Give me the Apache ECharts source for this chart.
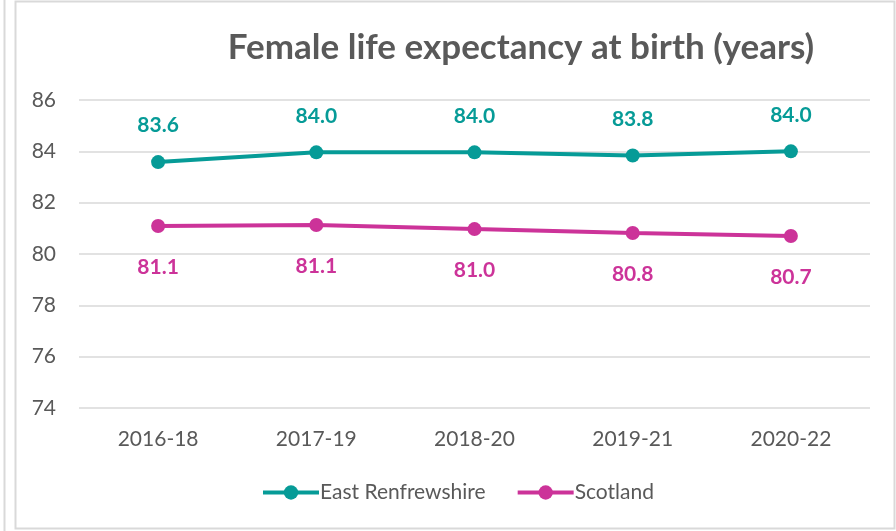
<!DOCTYPE html>
<html>
<head>
<meta charset="utf-8">
<script src="https://cdn.jsdelivr.net/npm/echarts@6/dist/echarts.min.js"></script>
<style>
  body { margin: 0; background: #fff; }
  #main { width: 896px; height: 531px; }
</style>
</head>
<body>
<div id="main"></div>
<script>
  // data
  var periods = ['2016-18', '2017-19', '2018-20', '2019-21', '2020-22'];
  var eastRenfrewshire = [83.58, 83.96, 83.96, 83.84, 84.0];
  var scotland = [81.09, 81.13, 80.97, 80.82, 80.7];
  var yTicks = [74, 76, 78, 80, 82, 84, 86];

  var font = 'Lato, "Open Sans", sans-serif';
  var teal = '#069b97';
  var pink = '#cc3399';
  var grey = '#595959';

  var myChart = echarts.init(document.getElementById('main'));
  var option = {
    textStyle: { fontFamily: font },
    title: {
      text: 'Female life expectancy at birth (years)',
      left: 516,
      top: 25,
      textAlign: 'center',
      textStyle: { fontSize: 35, fontWeight: 'bold', color: grey, fontFamily: font }
    },
    graphic: [
      { type: 'rect', shape: { x: 15.5, y: 1.5, width: 879, height: 527 },
        style: { fill: 'none', stroke: '#d9d9d9', lineWidth: 2 } },
      { type: 'line', shape: { x1: 4.5, y1: 0, x2: 4.5, y2: 531 },
        style: { stroke: '#d9d9d9', lineWidth: 2 } }
    ],
    legend: {
      left: 256,
      top: 477,
      itemWidth: 56,
      itemHeight: 18,
      itemGap: 30,
      lineStyle: { width: 4 },
      textStyle: { fontSize: 21, color: grey, fontFamily: font, padding: [0, 0, 0, -4] },
      data: ['East Renfrewshire', 'Scotland']
    },
    grid: { left: 79, right: 26, top: 100, bottom: 123 },
    xAxis: {
      type: 'category',
      data: periods,
      boundaryGap: true,
      axisLine: { show: false },
      axisTick: { show: false },
      axisLabel: { fontSize: 21, color: grey, margin: 21, fontFamily: font }
    },
    yAxis: {
      type: 'value',
      min: yTicks[0],
      max: yTicks[yTicks.length - 1],
      interval: 2,
      axisLine: { show: false },
      axisTick: { show: false },
      axisLabel: { fontSize: 21, color: grey, margin: 23, fontFamily: font },
      splitLine: { lineStyle: { color: '#d9d9d9', width: 1.5 } }
    },
    series: [
      {
        name: 'East Renfrewshire',
        type: 'line',
        data: eastRenfrewshire,
        symbol: 'circle',
        symbolSize: 14,
        lineStyle: { width: 4, color: teal },
        itemStyle: { color: teal },
        label: {
          show: true, position: 'top', distance: 19,
          fontSize: 21, fontWeight: 'bold', color: teal, fontFamily: font,
          formatter: function (p) { return p.value.toFixed(1); }
        }
      },
      {
        name: 'Scotland',
        type: 'line',
        data: scotland,
        symbol: 'circle',
        symbolSize: 14,
        lineStyle: { width: 4, color: pink },
        itemStyle: { color: pink },
        label: {
          show: true, position: 'bottom', distance: 24,
          fontSize: 21, fontWeight: 'bold', color: pink, fontFamily: font,
          formatter: function (p) { return p.value.toFixed(1); }
        }
      }
    ]
  };
  myChart.setOption(option);
</script>
</body>
</html>
